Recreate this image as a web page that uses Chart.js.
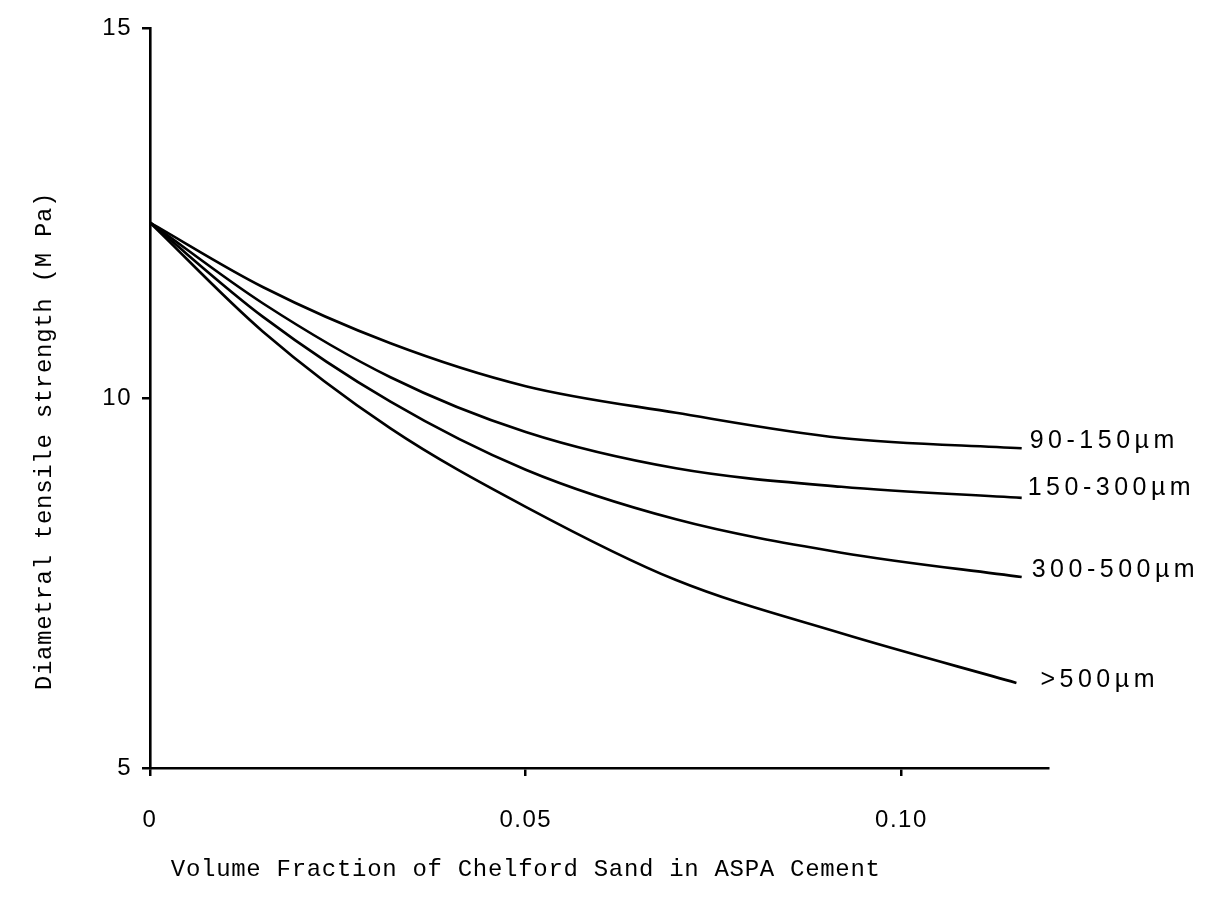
<!DOCTYPE html>
<html>
<head>
<meta charset="utf-8">
<script src="https://cdn.jsdelivr.net/npm/chart.js@4"></script>
<style>
  html, body { margin: 0; padding: 0; background: #fff; }
  canvas { display: block; }
</style>
</head>
<body>
<canvas id="chart" width="1232" height="900"></canvas>
<script>
// ==== Data ====
const fractions = [0, 0.015, 0.032, 0.05, 0.07, 0.092, 0.116];
const fractionsCoarse = [0, 0.015, 0.032, 0.05, 0.07, 0.092, 0.1153];
const sizeLabels = ["90-150\u00b5m", "150-300\u00b5m", "300-500\u00b5m", ">500\u00b5m"];
const fine90 = [12.37, 11.5, 10.74, 10.16, 9.8, 9.46, 9.32];
const mid150 = [12.37, 11.28, 10.28, 9.54, 9.05, 8.8, 8.65];
const mid300 = [12.37, 11.1, 9.95, 9.03, 8.36, 7.91, 7.58];
const coarse500 = [12.37, 10.9, 9.59, 8.53, 7.54, 6.82, 6.15];
const xTickValues = [0, 0.05, 0.1];
const xTickLabels = ["0", "0.05", "0.10"];
const yTickValues = [5, 10, 15];
const xTitle = "Volume Fraction of Chelford Sand in ASPA Cement";
const yTitle = "Diametral tensile strength (M Pa)";

// ==== Helpers ====
const toPoints = (xs, ys) => xs.map((x, i) => ({ x, y: ys[i] }));
const series = [
  toPoints(fractions, fine90),
  toPoints(fractions, mid150),
  toPoints(fractions, mid300),
  toPoints(fractionsCoarse, coarse500)
];
// label offsets from each curve end (style only)
const labelOffsets = [[8, -7], [6, -10], [10, -7], [24, -3]];

// ==== Plugins ====
const paper = {
  id: "paper",
  beforeDraw(chart) {
    const ctx = chart.ctx;
    ctx.save();
    ctx.fillStyle = "#fff";
    ctx.fillRect(0, 0, chart.width, chart.height);
    ctx.restore();
    ctx.letterSpacing = "1.5px";
  }
};

const endLabels = {
  id: "endLabels",
  afterDatasetsDraw(chart) {
    const ctx = chart.ctx;
    ctx.save();
    ctx.fillStyle = "#000";
    ctx.font = "25px 'Liberation Sans', Arial, sans-serif";
    ctx.letterSpacing = "4.5px";
    ctx.textBaseline = "middle";
    ctx.textAlign = "left";
    chart.data.datasets.forEach((ds, i) => {
      const meta = chart.getDatasetMeta(i);
      const last = meta.data[meta.data.length - 1];
      const [dx, dy] = labelOffsets[i];
      ctx.fillText(ds.label, last.x + dx, last.y + dy);
    });
    ctx.restore();
  }
};

const axisTitles = {
  id: "axisTitles",
  afterDraw(chart) {
    const ctx = chart.ctx;
    const area = chart.chartArea;
    const xs = chart.scales.x;
    ctx.save();
    ctx.fillStyle = "#000";
    ctx.font = "24px 'Liberation Mono', 'Courier New', monospace";
    ctx.letterSpacing = "0.7px";
    ctx.textAlign = "center";
    ctx.textBaseline = "middle";
    ctx.fillText(xTitle, xs.getPixelForValue(0.05), area.bottom + 102);
    ctx.translate(area.left - 105, (area.top + area.bottom) / 2 + 43);
    ctx.rotate(-Math.PI / 2);
    ctx.fillText(yTitle, 0, 0);
    ctx.restore();
  }
};

// ==== Chart ====
new Chart(document.getElementById("chart"), {
  type: "scatter",
  data: {
    datasets: series.map((pts, i) => ({
      label: sizeLabels[i],
      data: pts,
      showLine: true,
      borderColor: "#000",
      borderWidth: 2.6,
      pointRadius: 0,
      cubicInterpolationMode: "monotone"
    }))
  },
  options: {
    responsive: false,
    animation: false,
    layout: { padding: { left: 0, top: 28, right: 184, bottom: 0 } },
    plugins: {
      legend: { display: false },
      tooltip: { enabled: false }
    },
    scales: {
      x: {
        type: "linear",
        min: 0,
        max: 0.1195,
        afterFit: (s) => { s.height = 132; },
        afterBuildTicks: (s) => { s.ticks = xTickValues.map((v) => ({ value: v })); },
        grid: { drawOnChartArea: false, drawTicks: true, tickLength: 8, color: "#000", lineWidth: 2.5 },
        border: { display: true, color: "#000", width: 2.6 },
        ticks: {
          color: "#000",
          padding: 30,
          maxRotation: 0,
          font: { family: "'Liberation Sans', Arial, sans-serif", size: 24 },
          callback: (v) => xTickLabels[xTickValues.indexOf(v)] ?? ""
        }
      },
      y: {
        type: "linear",
        min: 5,
        max: 15,
        afterFit: (s) => { s.width = 150; },
        afterBuildTicks: (s) => { s.ticks = yTickValues.map((v) => ({ value: v })); },
        grid: { drawOnChartArea: false, drawTicks: true, tickLength: 8, color: "#000", lineWidth: 2.5 },
        border: { display: true, color: "#000", width: 2.6 },
        ticks: {
          color: "#000",
          padding: 10,
          font: { family: "'Liberation Sans', Arial, sans-serif", size: 24 }
        }
      }
    }
  },
  plugins: [paper, endLabels, axisTitles]
});
</script>
</body>
</html>
